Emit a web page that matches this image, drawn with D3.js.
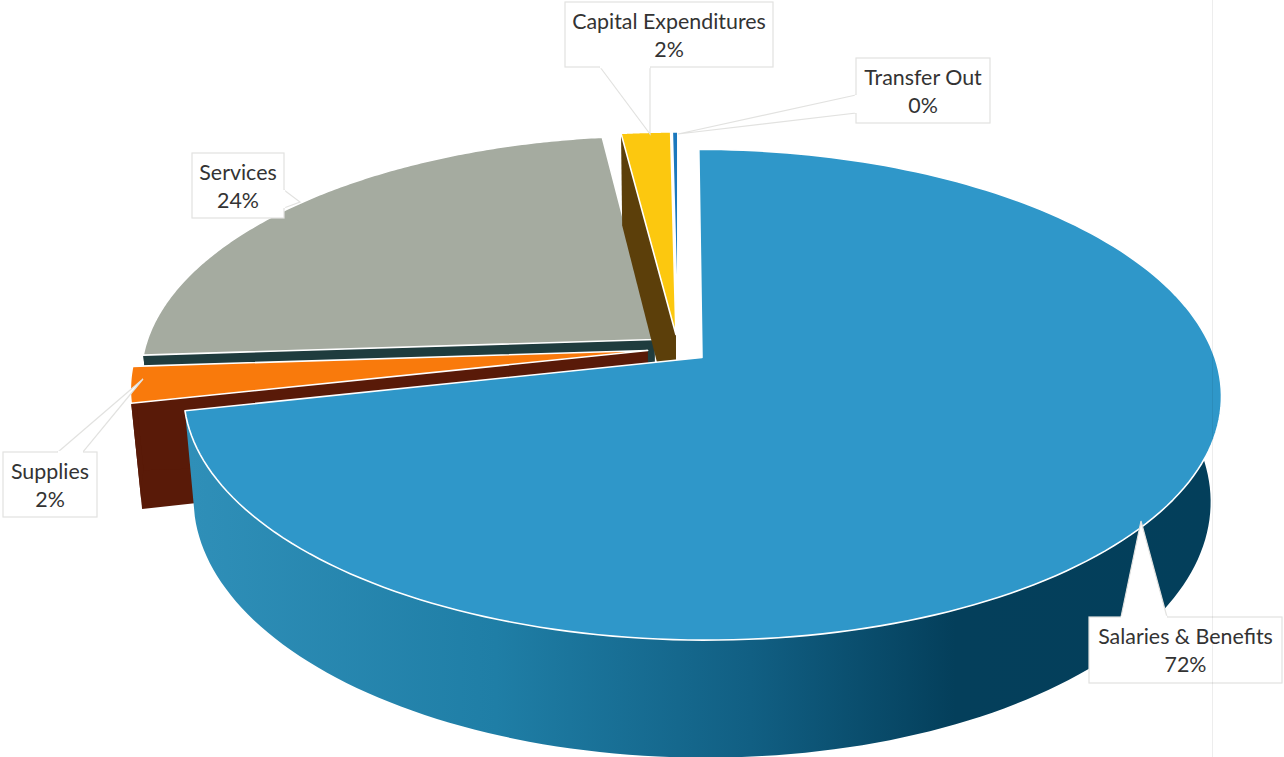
<!DOCTYPE html>
<html>
<head>
<meta charset="utf-8">
<script src="https://cdn.jsdelivr.net/npm/d3@7/dist/d3.min.js"></script>
<style>
  html, body { margin: 0; padding: 0; background: #fff; overflow: hidden; }
  svg { display: block; }
  text { font-family: Lato, "Open Sans", sans-serif; font-size: 21.4px; fill: #333; }
</style>
</head>
<body>
<svg id="chart" width="1284" height="757"></svg>
<script>
// Budget shares, clockwise from twelve o'clock
const categories = ["Salaries & Benefits", "Supplies", "Services", "Capital Expenditures", "Transfer Out"];
const shares = [71.55, 2.4, 24.05, 1.8, 0.2];

const topColors  = ["#2f97c9", "#f97a0c", "#a5aba0", "#fcc80f", "#1b78bd"];
const wallColors = ["#0f5d7f", "#591a08", "#1f3c3e", "#5c3f0a", "#5c3f0a"];

// Slices whose radial walls cannot be seen from this viewpoint
const wallsHidden = [0, 4];

// Perspective model of the exploded disc
const view = { cx: 678, cy: 348.5, R: 510, Ry: 237, persp: 0.151, explode: 0.06,
               depthY: 103, bottomScaleX: 0.98, bottomScaleY: 1.05 };

// Callout boxes: box rectangle, wedge base on the box, wedge tip
const callouts = [
  { i: 3, box: [565, 2, 773, 67],    base: [[600, 67], [650, 67]],   tip: [650, 134] },
  { i: 4, box: [856, 58, 990, 123],  base: [[856, 95], [856, 113]],  tip: [678, 134] },
  { i: 2, box: [192, 153, 284, 218], base: [[284, 190], [284, 208]], tip: [300, 202] },
  { i: 1, box: [3, 452, 97, 517],    base: [[58, 452], [83, 452]],   tip: [143, 379] },
  { i: 0, box: [1089, 617, 1282, 683], base: [[1121, 617], [1167, 617]], tip: [1141, 521] }
];

const svg = d3.select("#chart");
const pctLabel = d3.format(".0%");

const total = d3.sum(shares);
const arcs = d3.pie().sort(null).value(d => d)(shares);

// Disc coordinates (u right, v toward the viewer) to screen coordinates
function project(u, v, bottom) {
  const w = 1 / (1 - view.persp * v);
  const x = view.R * u * w;
  const y = view.Ry * v * w;
  return bottom
    ? [view.cx + x * view.bottomScaleX, view.cy + view.depthY + y * view.bottomScaleY]
    : [view.cx + x, view.cy + y];
}

const line = d3.line();

// Rim gradient of the large slice runs from lit left to shaded right
const grad = svg.append("defs").append("linearGradient")
  .attr("id", "rimBlue").attr("gradientUnits", "userSpaceOnUse")
  .attr("x1", 190).attr("x2", 1210).attr("y1", 0).attr("y2", 0);
[[0, "#2f8fb8"], [0.3, "#1f7ea6"], [0.55, "#115f83"], [0.75, "#043f5b"], [1, "#033f5b"]]
  .forEach(([o, c]) => grad.append("stop").attr("offset", o).attr("stop-color", c));

// Back slices first, the large front slice last
const paintOrder = [2, 3, 4, 1, 0];

paintOrder.forEach(i => {
  const a = arcs[i];
  const mid = (a.startAngle + a.endAngle) / 2;
  const ex = view.explode * Math.sin(mid);
  const ey = -view.explode * Math.cos(mid);
  const rimAngles = d3.range(0, 181).map(k => a.startAngle + (a.endAngle - a.startAngle) * k / 180);
  const rimPoint = (t, bottom) => project(ex + Math.sin(t), ey - Math.cos(t), bottom);
  const apexTop = project(ex, ey, false);
  const apexBottom = project(ex, ey, true);
  const topRim = rimAngles.map(t => rimPoint(t, false));
  const g = svg.append("g").attr("class", "slice");
  const wallFill = i === 0 ? "url(#rimBlue)" : wallColors[i];

  // radial walls
  if (!wallsHidden.includes(i)) {
    g.append("path").attr("fill", wallColors[i])
      .attr("d", line([apexTop, topRim[0], rimPoint(rimAngles[0], true), apexBottom]) + "Z");
    g.append("path").attr("fill", wallColors[i])
      .attr("d", line([apexTop, topRim[180], rimPoint(rimAngles[180], true), apexBottom]) + "Z");
  }
  // outer rim, only along the part of the arc facing the viewer
  const frontAngles = rimAngles.filter(t => ey - Math.cos(t) > -0.25);
  if (frontAngles.length > 1) {
    const frontTop = frontAngles.map(t => rimPoint(t, false));
    const frontBottom = frontAngles.map(t => rimPoint(t, true)).reverse();
    g.append("path").attr("fill", wallFill)
      .attr("d", line(frontTop.concat(frontBottom)) + "Z");
  }
  // top face
  g.append("path").attr("fill", topColors[i])
    .attr("stroke", "#fff").attr("stroke-width", 1.6).attr("stroke-linejoin", "round")
    .attr("d", line([apexTop].concat(topRim)) + "Z");
});

// Callouts with category name and rounded share
callouts.forEach(c => {
  const [x0, y0, x1, y1] = c.box;
  const g = svg.append("g").attr("class", "callout");
  const edge = "#e2e2e0";
  g.append("path").attr("fill", "#fff").attr("stroke", edge).attr("stroke-width", 1.2)
    .attr("d", line([c.base[0], c.tip, c.base[1]]) + "Z");
  g.append("rect").attr("x", x0).attr("y", y0).attr("width", x1 - x0).attr("height", y1 - y0)
    .attr("fill", "#fff").attr("stroke", edge).attr("stroke-width", 1.2);
  // hide the seam between wedge and box
  g.append("path").attr("fill", "none").attr("stroke", "#fff").attr("stroke-width", 2.4)
    .attr("d", line(c.base));
  const mx = (x0 + x1) / 2;
  g.append("text").attr("x", mx).attr("y", y0 + 27).attr("text-anchor", "middle").text(categories[c.i]);
  g.append("text").attr("x", mx).attr("y", y0 + 55).attr("text-anchor", "middle")
    .text(pctLabel(shares[c.i] / total));
});

// Faint page rule at the right
svg.append("line").attr("x1", 1212.5).attr("x2", 1212.5).attr("y1", 0).attr("y2", 757)
  .attr("stroke", "#000").attr("stroke-opacity", 0.07);
</script>
</body>
</html>
